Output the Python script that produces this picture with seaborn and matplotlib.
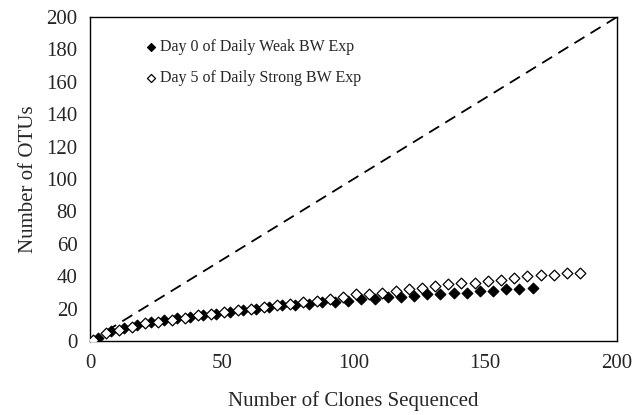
import numpy as np
import pandas as pd
import matplotlib
matplotlib.use("Agg")
import matplotlib.pyplot as plt
import seaborn as sns

# data
weak_clones = list(range(3, 169, 5))
weak_otus = [2, 6, 8, 10, 12, 13, 14, 15, 16, 17, 18, 19, 20, 21, 22, 22, 23, 24, 24, 25,
             26, 26, 27, 27, 28, 29, 29, 30, 30, 31, 31, 32, 32, 33]
strong_clones = list(range(1, 187, 5))
strong_otus = [1, 5, 7, 9, 11, 12, 13, 14, 16, 17, 18, 19, 20, 21, 22, 23, 24, 25, 26, 27,
               29, 29, 30, 31, 32, 33, 34, 35, 36, 36, 37, 38, 39, 40, 41, 41, 42, 42]
ref_line = [0, 200]

weak = pd.DataFrame({"clones": weak_clones, "otus": weak_otus})
strong = pd.DataFrame({"clones": strong_clones, "otus": strong_otus})
line = pd.DataFrame({"x": ref_line, "y": ref_line})

sns.set_style("white")
plt.rcParams['font.family'] = ['Liberation Serif', 'DejaVu Serif']

fig = plt.figure(figsize=(6.36, 4.15), dpi=100)
ax = fig.add_axes([0.1415, 0.178, 0.8285, 0.781])

sns.lineplot(data=line, x="x", y="y", ax=ax, color="black", linewidth=1.3,
             dashes=False, linestyle=(0, (6.5, 4)), legend=False)
sns.scatterplot(data=weak, x="clones", y="otus", ax=ax, marker="D", s=30,
                color="black", edgecolor="black", linewidth=0.8,
                label="Day 0 of Daily Weak BW Exp", zorder=3)
sns.scatterplot(data=strong, x="clones", y="otus", ax=ax, marker="D", s=30,
                color="white", edgecolor="black", linewidth=0.9,
                label="Day 5 of Daily Strong BW Exp", zorder=4)

ax.set_xlim(0, 200)
ax.set_ylim(0, 200)
ax.set_xticks(np.arange(0, 201, 50))
ax.set_yticks(np.arange(0, 201, 20))
ax.tick_params(axis="x", direction="in", length=5, labelsize=15, pad=9, color="#888888")
ax.tick_params(axis="y", direction="out", length=4, labelsize=15, pad=5, color="#888888")
ax.set_xlabel("Number of Clones Sequenced", fontsize=15, labelpad=13)
ax.set_ylabel("Number of OTUs", fontsize=15, labelpad=6)

for sp in ax.spines.values():
    sp.set_color("black")
    sp.set_linewidth(1.0)

ax.legend(loc="upper left", bbox_to_anchor=(0.07, 0.975), frameon=False,
          fontsize=11.5, handletextpad=0.0, labelspacing=0.9, markerscale=0.75,
          handlelength=1.2)

fig.savefig("out.png", dpi=100)
